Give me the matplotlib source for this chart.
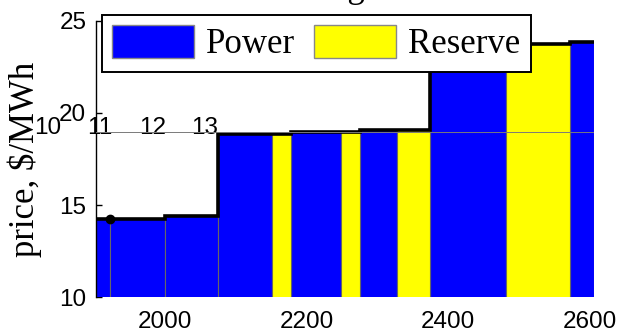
import matplotlib
matplotlib.use("Agg")
import matplotlib.pyplot as plt
from matplotlib.patches import Patch

# Offer stack: cumulative quantity (MW) boundaries and clearing prices ($/MWh)
block_edges = [1902, 1999, 2075, 2177, 2275, 2374, 2572, 2606]
block_price = [14.25, 14.4, 18.85, 18.95, 19.07, 23.72, 23.83]

# Power segments: left edge, right edge, price
power_left = [1902, 1922, 1999, 2075, 2177, 2275, 2374, 2572]
power_right = [1922, 1999, 2075, 2151, 2248, 2327, 2482, 2606]
power_price = [14.25, 14.25, 14.4, 18.85, 18.95, 19.07, 23.72, 23.83]

# Reserve segments: left edge, right edge, price
reserve_left = [2151, 2248, 2327, 2482]
reserve_right = [2177, 2275, 2374, 2572]
reserve_price = [18.85, 18.95, 19.07, 23.72]

# Operating point
op_x = [1922]
op_y = [14.25]

x_ticks = [2000, 2200, 2400, 2600]
y_ticks = [10, 15, 20, 25]
overlay_ticks = [10, 11, 12, 13]
overlay_level = 18.94

SERIF = "Liberation Serif"
SANS = "Liberation Sans"
BLUE = "#0000ff"
YELLOW = "#ffff00"
EDGE = "#666666"

W, H = 621, 332
fig = plt.figure(figsize=(W / 100, H / 100), dpi=100)
x0, x1 = 96, 594
y0, y1 = 297.3, 20.7
ax = fig.add_axes([x0 / W, 1 - y0 / H, (x1 - x0) / W, (y0 - y1) / H])

pw = [r - l for l, r in zip(power_left, power_right)]
rw = [r - l for l, r in zip(reserve_left, reserve_right)]
ax.bar(power_left, power_price, width=pw, align="edge", color=BLUE,
       edgecolor=EDGE, linewidth=0.8, zorder=2)
ax.bar(reserve_left, reserve_price, width=rw, align="edge", color=YELLOW,
       edgecolor=EDGE, linewidth=0.8, zorder=2)

# Price staircase
ax.plot(block_edges, block_price + [block_price[-1]], drawstyle="steps-post",
        color="black", linewidth=2.6, zorder=4, solid_joinstyle="miter")
ax.plot(op_x, op_y, "o", color="black", markersize=6, zorder=5)

ax.set_xlim(block_edges[0], block_edges[-1])
ax.set_ylim(10, 25)
ax.set_xticks(x_ticks)
ax.set_yticks(y_ticks)
for s in ("top", "right", "bottom"):
    ax.spines[s].set_visible(False)
ax.spines["left"].set_linewidth(1.0)
ax.tick_params(axis="y", direction="in", length=4, width=1, pad=7,
               labelsize=17.5)
ax.tick_params(axis="x", direction="in", length=0, pad=10, labelsize=17.5)
for lab in ax.get_xticklabels() + ax.get_yticklabels():
    lab.set_fontfamily(SANS)

ax.set_ylabel("price, $/MWh", fontfamily=SERIF, fontsize=25, labelpad=12)

# Overlaid secondary axis with its own tick labels
ov = fig.add_axes(ax.get_position(), facecolor="none")
px_per_unit = 52.5
ov.set_xlim(11 - (100 - x0) / px_per_unit, 11 + (x1 - 100) / px_per_unit)
ov.set_ylim(10, 25)
ov.axis("off")
ov.axhline(overlay_level, color="#7a7a7a", linewidth=0.7, zorder=6)
for t in overlay_ticks:
    ov.text(t, overlay_level + 0.25, str(t), ha="center", va="center",
            fontfamily=SANS, fontsize=17.5, clip_on=False)

handles = [Patch(facecolor=BLUE, edgecolor="#888888", label="Power"),
           Patch(facecolor=YELLOW, edgecolor="#888888", label="Reserve")]
leg = fig.legend(handles=handles, loc="upper left",
                 bbox_to_anchor=(102 / W, 1 - 15 / H), ncol=2,
                 prop={"family": SERIF, "size": 25}, frameon=True,
                 fancybox=False, framealpha=1, edgecolor="black",
                 handlelength=2.35, handleheight=1.05, handletextpad=0.35,
                 columnspacing=0.55, borderpad=0.3, borderaxespad=0)
leg.get_frame().set_linewidth(1.4)
leg.set_zorder(10)

fig.text(345 / W, 1 + 3 / H, "Clearing stack", ha="center", va="baseline",
         fontfamily=SERIF, fontsize=25)

fig.savefig("out.png", dpi=100)
